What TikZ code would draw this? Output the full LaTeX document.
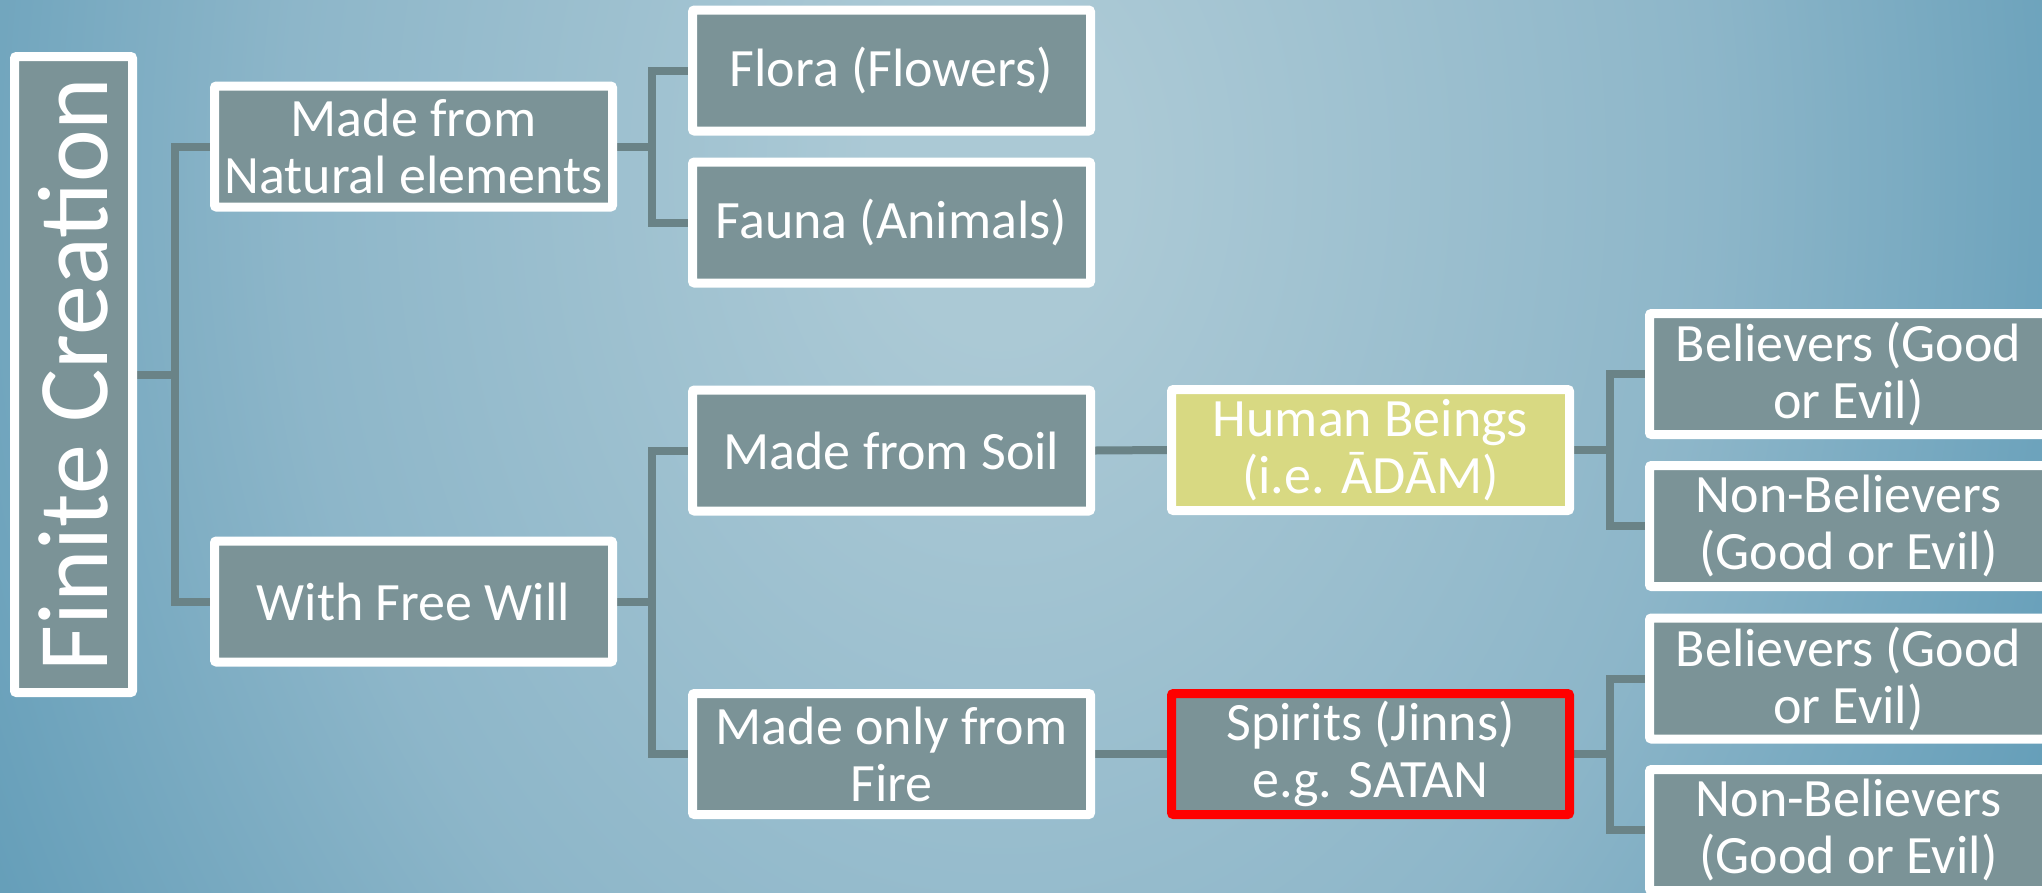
\documentclass[tikz,border=0pt]{standalone}
\usepackage{fontspec}
\setmainfont{Carlito}
\definecolor{boxfill}{HTML}{7B9397}
\definecolor{connc}{HTML}{6A8387}
\definecolor{humanfill}{HTML}{D8D982}
\definecolor{bglight}{HTML}{ABC9D5}
\definecolor{bgmid}{HTML}{8DB6C9}
\definecolor{bgdark}{HTML}{5E9AB6}
\pgfdeclareradialshading{bgshade}{\pgfpoint{0bp}{0bp}}{color(0bp)=(bglight); color(3bp)=(bglight); color(17bp)=(bgmid); color(29bp)=(bgdark); color(70bp)=(bgdark)}
\pgfdeclarelayer{shadelayer}
\pgfdeclarelayer{connlayer}
\pgfsetlayers{shadelayer,connlayer,main}
\begin{document}
\begin{tikzpicture}[x=1pt,y=-1pt,
  box/.style={draw=white, line width=9pt, fill=boxfill, text=white,
    minimum width=398pt, minimum height=121pt, inner sep=0pt, align=center,
    font=\fontsize{54}{57}\selectfont, rounded corners=2pt},
  connline/.style={draw=connc, line width=8pt}]
\useasboundingbox (0,0) rectangle (2042,892);
\begin{pgfonlayer}{shadelayer}
\clip (0,0) rectangle (2042,892);
\fill[bgdark] (0,0) rectangle (2042,892);
\shade[shading=bgshade] (-50,-1230) rectangle (2050,1570);
\end{pgfonlayer}

% nodes
\node[box, rotate=90, minimum width=636pt, minimum height=118pt,
  font=\fontsize{100}{100}\selectfont] (fc) at (73.5,374.5) {Finite Creation};
\node[box] (nat) at (413.5,146.5) {Made from\\Natural elements};
\node[box] (fw) at (413.5,601.5) {With Free Will};
\node[box] (flora) at (891.5,70.5) {Flora (Flowers)};
\node[box] (fauna) at (891.5,222.5) {Fauna (Animals)};
\node[box] (soil) at (891.5,450.5) {Made from Soil};
\node[box] (fire) at (891.5,754) {Made only from\\Fire};
\node[box, fill=humanfill] (human) at (1370.5,450) {Human Beings\\(i.e. ĀDĀM)};
\node[box, draw=red] (spirits) at (1370.5,754) {Spirits (Jinns)\\e.g. SATAN};
\node[box] (b1) at (1848.5,374) {Believers (Good\\or Evil)};
\node[box] (nb1) at (1848.5,526) {Non-Believers\\(Good or Evil)};
\node[box] (b2) at (1848.5,678.5) {Believers (Good\\or Evil)};
\node[box] (nb2) at (1848.5,830) {Non-Believers\\(Good or Evil)};

% junctions
\coordinate (j1) at (175,374.5);
\coordinate (j2) at (652,146.5);
\coordinate (j3) at (652,601.5);
\coordinate (j4) at (1610,450);
\coordinate (j5) at (1610,754);

\begin{pgfonlayer}{connlayer}
\draw[connline] (fc.south) -- (j1) |- (nat.west);
\draw[connline] (j1) |- (fw.west);
\draw[connline] (nat.east) -- (j2) |- (flora.west);
\draw[connline] (j2) |- (fauna.west);
\draw[connline] (fw.east) -- (j3) |- (soil.west);
\draw[connline] (j3) |- (fire.west);
\draw[connline] (soil.east) -- (human.west);
\draw[connline] (fire.east) -- (spirits.west);
\draw[connline] (human.east) -- (j4) |- (b1.west);
\draw[connline] (j4) |- (nb1.west);
\draw[connline] (spirits.east) -- (j5) |- (b2.west);
\draw[connline] (j5) |- (nb2.west);
\end{pgfonlayer}
\end{tikzpicture}
\end{document}
